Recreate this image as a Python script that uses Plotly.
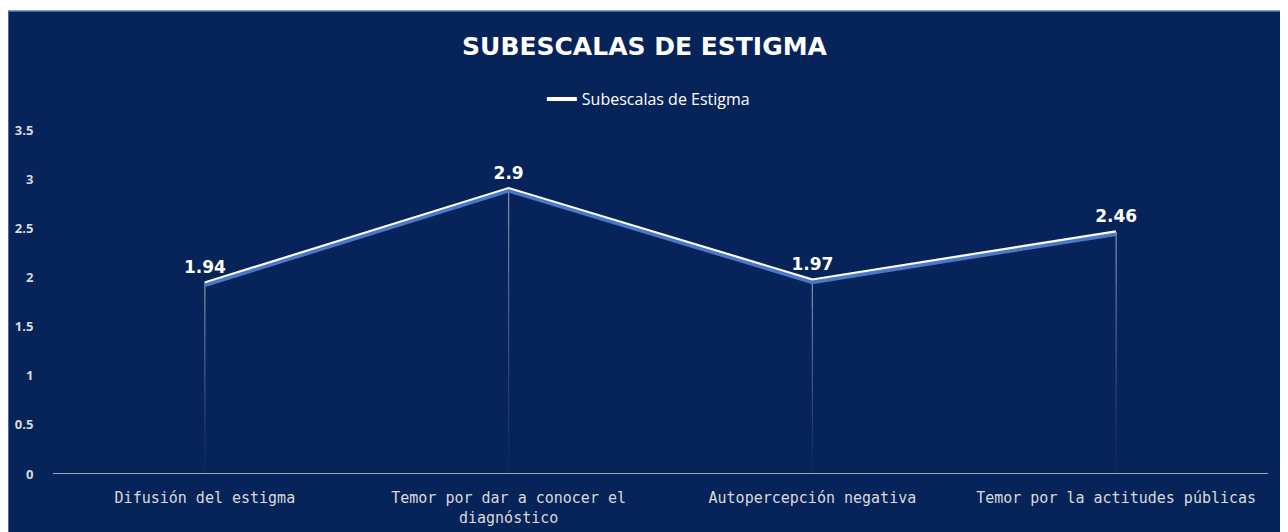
import plotly.graph_objects as go

categories = ["Difusión del estigma", "Temor por dar a conocer el<br>diagnóstico",
              "Autopercepción negativa", "Temor por la actitudes públicas"]
values = [1.94, 2.9, 1.97, 2.46]
labels = ["1.94", "2.9", "1.97", "2.46"]
series_name = "Subescalas de Estigma"
title_text = "SUBESCALAS DE ESTIGMA"
y_ticks = [0, 0.5, 1, 1.5, 2, 2.5, 3, 3.5]
y_tick_labels = ["0", "0.5", "1", "1.5", "2", "2.5", "3", "3.5"]

NAVY = "#07245a"
fig = go.Figure()

# fading drop lines (segments from axis up to each value)
N = 14
for k in range(N):
    xs, ys = [], []
    for c, v in zip(categories, values):
        xs += [c, c, None]
        ys += [v * k / N, v * (k + 1) / N, None]
    op = 0.04 + 0.6 * (k / (N - 1)) ** 1.2
    fig.add_trace(go.Scatter(x=xs, y=ys, mode="lines", showlegend=False, hoverinfo="skip",
                             line=dict(color=f"rgba(200,208,225,{op:.3f})", width=1.2)))

# blue shadow line on shifted overlay axis
fig.add_trace(go.Scatter(x=categories, y=values, mode="lines", yaxis="y2", showlegend=False,
                         hoverinfo="skip", line=dict(color="#4a78c8", width=3.5)))

fig.add_trace(go.Scatter(x=categories, y=values, mode="lines", name=series_name,
                         line=dict(color="white", width=4)))

# data labels on an overlay axis shifted so they sit a bit higher above the points
fig.add_trace(go.Scatter(x=categories, y=values, mode="text", yaxis="y3", showlegend=False,
                         text=labels, textposition="top center", hoverinfo="skip",
                         textfont=dict(family="DejaVu Sans", size=17, color="white", weight="bold")))

fig.update_layout(
    width=1288, height=532,
    paper_bgcolor="white", plot_bgcolor=NAVY,
    margin=dict(l=45, r=28, t=122, b=66),
    title=dict(text=f"<b>{title_text}</b>", x=(641 - 4.5) / 1288, xanchor="center",
               y=1 - 38 / 532, yanchor="middle",
               font=dict(family="DejaVu Sans", size=25, color="white")),
    legend=dict(orientation="h", x=0.49, xanchor="center", y=1.09, yanchor="middle",
                font=dict(family="Open Sans", size=16, color="white"), bgcolor="rgba(0,0,0,0)"),
    xaxis=dict(type="category", range=[-0.5, 3.5], showgrid=False, zeroline=False,
               showline=False, ticks="outside", ticklen=10, tickcolor="rgba(0,0,0,0)",
               automargin=False,
               tickfont=dict(family="DejaVu Sans Mono", size=15, color="#d9d9d9")),
    yaxis=dict(range=[0, 3.5], tickvals=y_ticks, ticktext=y_tick_labels, showgrid=False,
               zeroline=False, showline=False, ticks="outside", ticklen=16,
               tickcolor="rgba(0,0,0,0)", automargin=False,
               tickfont=dict(family="Open Sans", size=13, color="#d9d9d9", weight="bold")),
    yaxis2=dict(range=[0.02, 3.52], overlaying="y", visible=False),
    yaxis3=dict(range=[-0.06, 3.44], overlaying="y", visible=False),
    shapes=[
        dict(type="rect", xref="paper", yref="paper", x0=-0.037, x1=1.03, y0=-0.2, y1=1.346,
             fillcolor=NAVY, line=dict(color="#5a7db5", width=1.5), layer="below"),
        dict(type="line", xref="paper", yref="y", x0=0, x1=1, y0=0, y1=0,
             line=dict(color="#c8d0e0", width=1.5)),
    ],
)

fig.write_html("out.html")
